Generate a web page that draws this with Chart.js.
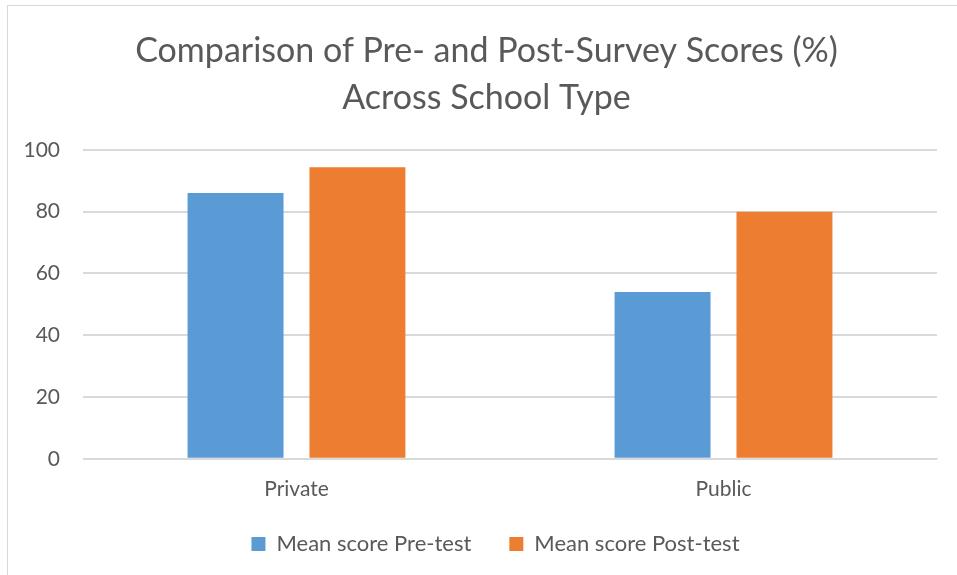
<!DOCTYPE html>
<html>
<head>
<meta charset="utf-8">
<title>Pre- and Post-Survey Scores</title>
<script src="https://cdn.jsdelivr.net/npm/chart.js@4.4.1/dist/chart.umd.min.js"></script>
<style>
  html, body { margin: 0; padding: 0; background: #fff; }
  #frame { position: absolute; left: 7px; top: 5px; width: 960px; height: 580px;
           border-left: 1px solid #d9d9d9; border-top: 1px solid #d9d9d9; }
  #wrap { position: absolute; left: 0; top: 0; width: 957px; height: 575px; }
</style>
</head>
<body>
<div id="frame"></div>
<div id="wrap"><canvas id="scoreChart"></canvas></div>
<script>
// ---- data ----
const categories = ['Private', 'Public'];
const preTest = [86, 54];
const postTest = [94.4, 80];
const seriesNames = ['Mean score Pre-test', 'Mean score Post-test'];
const yTicks = [0, 20, 40, 60, 80, 100];

const textGrey = '#595959';
const gridGrey = '#d9d9d9';
const fontFam = 'Lato, "Open Sans", sans-serif';

// legend padding is both the gap between items and the vertical space,
// so pull the legend up a bit after layout; title + legend sit right of centre
const nudgeBoxes = {
  id: 'nudgeBoxes',
  afterLayout(chart) {
    const lg = chart.legend;
    if (lg) { lg.top -= 25; lg.bottom -= 25; lg.left += 27; lg.right += 27; }
    const tb = chart.titleBlock;
    if (tb) { tb.left += 18; tb.right += 18; }
  }
};

new Chart(document.getElementById('scoreChart'), {
  type: 'bar',
  data: {
    labels: categories,
    datasets: [
      { label: seriesNames[0], data: preTest, backgroundColor: '#5b9bd5',
        barPercentage: 0.787, categoryPercentage: 0.571 },
      { label: seriesNames[1], data: postTest, backgroundColor: '#ed7d31',
        barPercentage: 0.787, categoryPercentage: 0.571 }
    ]
  },
  plugins: [nudgeBoxes],
  options: {
    responsive: true,
    maintainAspectRatio: false,
    animation: false,
    layout: { padding: { left: 0, right: 20, top: 0, bottom: -15 } },
    plugins: {
      title: {
        display: true,
        text: ['Comparison of Pre- and Post-Survey Scores (%)', 'Across School Type'],
        color: textGrey,
        font: { family: fontFam, size: 34, weight: 'normal', lineHeight: 1.38 },
        padding: { top: 28, bottom: 28 }
      },
      legend: {
        position: 'bottom',
        labels: {
          color: textGrey,
          font: { family: fontFam, size: 22 },
          boxWidth: 14, boxHeight: 14, padding: 38
        }
      },
      tooltip: { enabled: false }
    },
    scales: {
      x: {
        grid: { display: false, drawTicks: false },
        border: { color: gridGrey },
        ticks: { color: textGrey, font: { family: fontFam, size: 21 }, padding: 18 }
      },
      y: {
        min: 0, max: 100,
        afterBuildTicks: (scale) => { scale.ticks = yTicks.map(v => ({ value: v })); },
        afterFit: (scale) => { scale.width = 83; },
        grid: { color: gridGrey, lineWidth: 2, drawTicks: false },
        border: { display: false },
        ticks: { color: textGrey, font: { family: fontFam, size: 21 }, padding: 23 }
      }
    }
  }
});
</script>
</body>
</html>
